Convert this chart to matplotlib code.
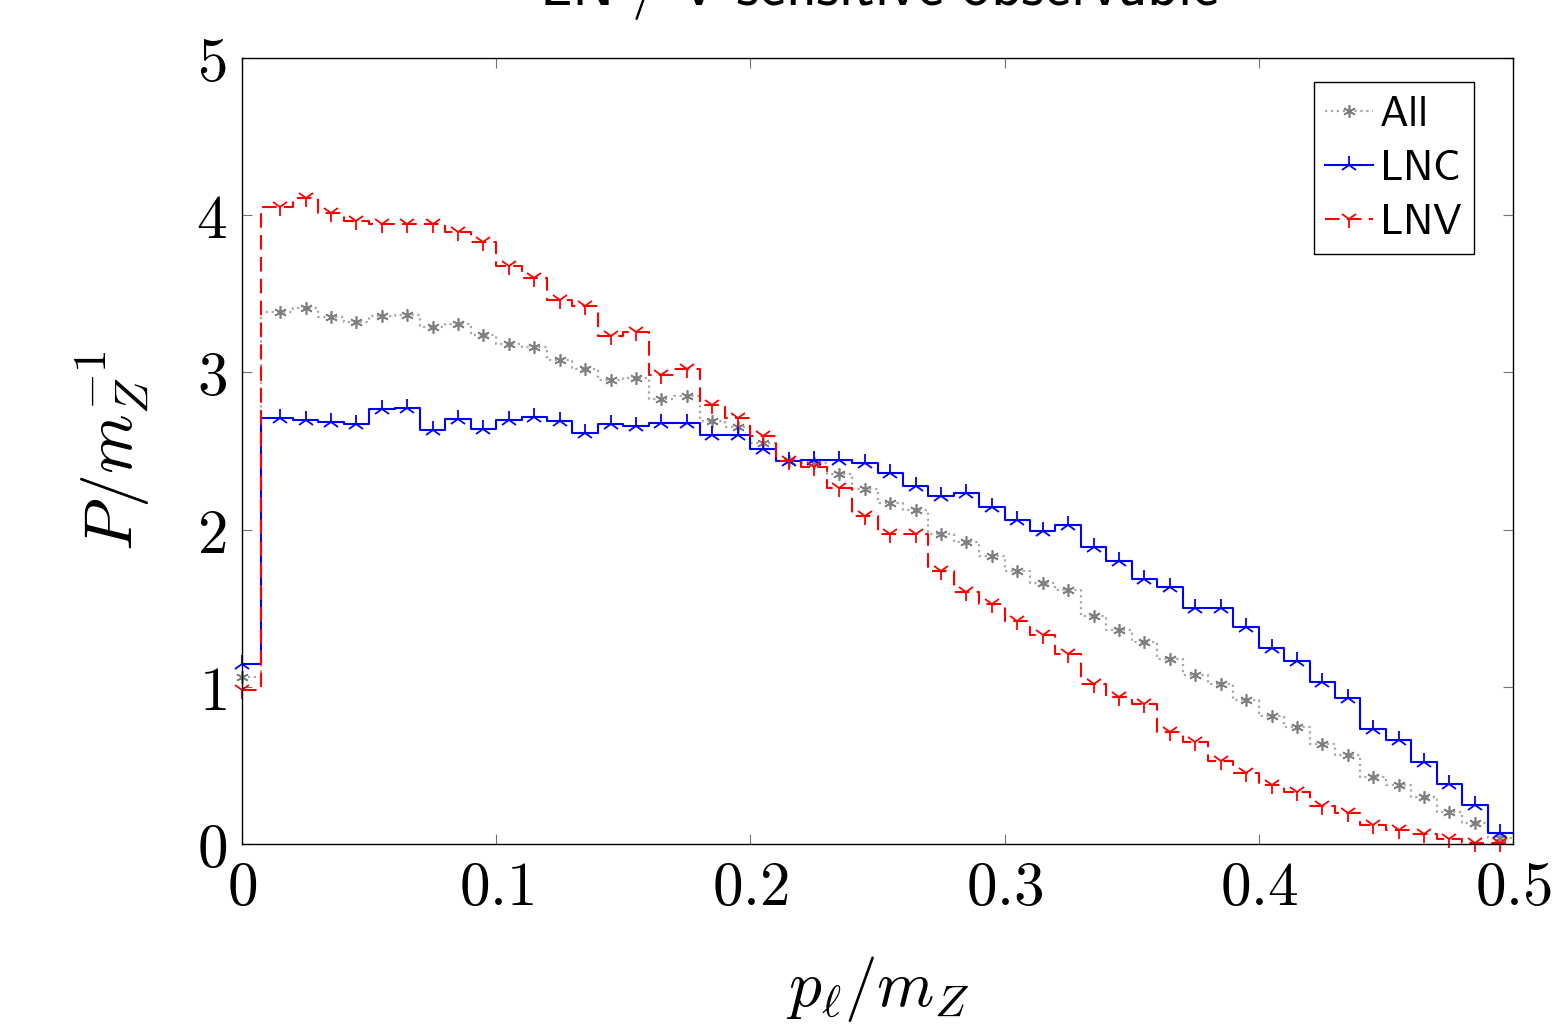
import matplotlib
matplotlib.use("Agg")
import matplotlib.pyplot as plt

plt.rcParams['mathtext.fontset'] = 'cm'

# bin positions (first point sits at 0, the rest at bin centres)
x_pts = [0.0] + [round(0.015 + 0.01 * i, 3) for i in range(49)]

all_vals = [1.06, 3.386, 3.408, 3.355, 3.323, 3.361, 3.365, 3.291, 3.306, 3.238,
            3.183, 3.160, 3.079, 3.022, 2.952, 2.962, 2.829, 2.852, 2.693, 2.655,
            2.553, 2.434, 2.422, 2.354, 2.256, 2.167, 2.125, 1.972, 1.921, 1.834,
            1.739, 1.658, 1.616, 1.450, 1.361, 1.287, 1.175, 1.075, 1.016, 0.916,
            0.814, 0.746, 0.636, 0.564, 0.428, 0.373, 0.297, 0.206, 0.132, 0.036]

lnc_vals = [1.145, 2.712, 2.697, 2.684, 2.670, 2.769, 2.776, 2.634, 2.706, 2.642,
            2.695, 2.719, 2.689, 2.615, 2.670, 2.661, 2.676, 2.676, 2.602, 2.602,
            2.511, 2.435, 2.443, 2.443, 2.426, 2.358, 2.280, 2.214, 2.235, 2.144,
            2.059, 1.991, 2.031, 1.889, 1.800, 1.687, 1.633, 1.499, 1.503, 1.378,
            1.249, 1.164, 1.033, 0.931, 0.734, 0.662, 0.522, 0.380, 0.246, 0.068]

lnv_vals = [0.98, 4.054, 4.107, 4.012, 3.965, 3.942, 3.942, 3.942, 3.895, 3.827,
            3.675, 3.598, 3.461, 3.422, 3.232, 3.259, 2.983, 3.022, 2.791, 2.707,
            2.597, 2.435, 2.400, 2.267, 2.089, 1.972, 1.972, 1.739, 1.605, 1.527,
            1.421, 1.330, 1.207, 1.018, 0.937, 0.889, 0.715, 0.651, 0.530, 0.454,
            0.375, 0.333, 0.242, 0.195, 0.121, 0.089, 0.064, 0.034, 0.008, 0.004]

x_ticks = [0, 0.1, 0.2, 0.3, 0.4, 0.5]
x_tick_labels = ['$0$', '$0.1$', '$0.2$', '$0.3$', '$0.4$', '$0.5$']
y_ticks = [0, 1, 2, 3, 4, 5]
y_tick_labels = ['$0$', '$1$', '$2$', '$3$', '$4$', '$5$']

fig = plt.figure(figsize=(15.6, 10.28), dpi=100)
ax = fig.add_axes([242 / 1560, 184 / 1028, 1271 / 1560, 786 / 1028])


def step_line(vals, **kw):
    # close the last step at the right edge of the range
    xs = x_pts + [0.5]
    ys = vals + [vals[-1]]
    ax.plot(xs, ys, drawstyle='steps-mid', markevery=slice(0, len(vals)),
            clip_on=False, **kw)


step_line(all_vals, color='#a8a8a8', linestyle=':', linewidth=1.6,
          marker=(6, 2, 0), markersize=9, markeredgecolor='#7f7f7f',
          markeredgewidth=1.2, label=r'$\mathsf{All}$')
step_line(lnc_vals, color='blue', linestyle='-', linewidth=1.5,
          marker='2', markersize=13, markeredgewidth=1.3, label=r'$\mathsf{LNC}$')
step_line(lnv_vals, color='red', linestyle=(0, (7, 3.5)), linewidth=1.5,
          marker='1', markersize=13, markeredgewidth=1.3, label=r'$\mathsf{LNV}$')

ax.set_xlim(0, 0.5)
ax.set_ylim(0, 5)
ax.set_xticks(x_ticks, labels=x_tick_labels)
ax.set_yticks(y_ticks, labels=y_tick_labels)
ax.tick_params(direction='in', top=True, right=True, length=7, width=0.8,
               color='0.45', labelsize=44, pad=11)
for s in ax.spines.values():
    s.set_linewidth(1.0)

ax.set_xlabel(r'$p_\ell/m_Z$', fontsize=47, labelpad=26)
ax.set_ylabel(r'$P/m_Z^{-1}$', fontsize=49, labelpad=32)

leg = ax.legend(loc='upper right', bbox_to_anchor=(0.969, 0.9695),
                borderaxespad=0, fontsize=31, fancybox=False, framealpha=1,
                edgecolor='black', handlelength=1.1, handletextpad=0.15,
                borderpad=0.25, labelspacing=0.28, numpoints=1)
leg.get_frame().set_linewidth(1.0)

fig.text(879 / 1560, 1 - 5 / 1028,
         r'$\mathsf{LN\ /\ V\ sensitive\ observable}$',
         fontsize=43, ha='center', va='baseline')

fig.savefig('out.png', dpi=100)
